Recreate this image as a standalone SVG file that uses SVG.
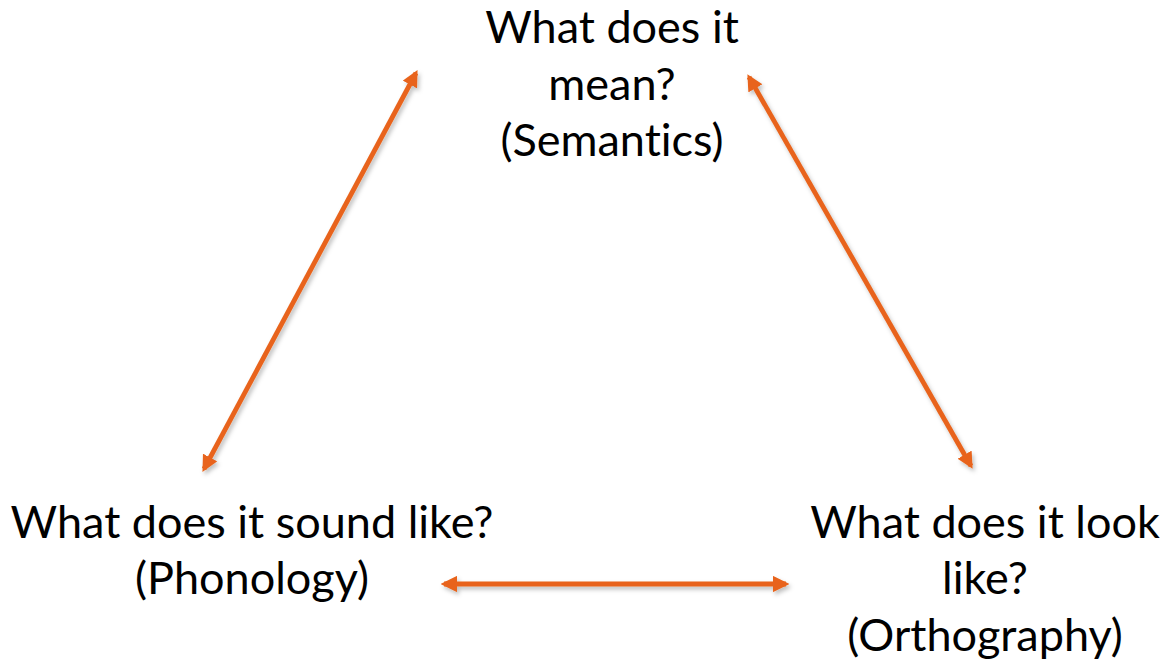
<svg xmlns="http://www.w3.org/2000/svg" width="1163" height="667" viewBox="0 0 1163 667">
<defs>
<style>
.t{font-family:Lato,"Open Sans","Liberation Sans",sans-serif;font-size:45px;fill:#000;text-anchor:middle;font-variant-ligatures:none;font-feature-settings:"liga" 0}
.c{stroke:#E8641B;stroke-width:4.8;fill:none;marker-start:url(#ah);marker-end:url(#ah)}
</style>
<marker id="ah" viewBox="0 0 10 10" refX="8" refY="5" markerWidth="3.4" markerHeight="3.4" orient="auto-start-reverse" markerUnits="strokeWidth">
<path d="M0,0 L10,5 L0,10 Z" fill="#E8641B"/>
</marker>
<filter id="sh" x="-10%" y="-10%" width="130%" height="130%">
<feDropShadow dx="2" dy="3" stdDeviation="2" flood-color="#000" flood-opacity="0.25"/>
</filter>
</defs>
<rect width="1163" height="667" fill="#fff"/>
<g id="connectors" filter="url(#sh)">
<line class="c" x1="204" y1="469" x2="416" y2="73"/>
<line class="c" x1="749" y1="77" x2="971" y2="466"/>
<line class="c" x1="444" y1="584" x2="786" y2="584"/>
</g>
<g id="semantics">
<text class="t" x="612" y="43">What does it</text>
<text class="t" x="612" y="100">mean?</text>
<text class="t" x="612" y="156">(Semantics)</text>
</g>
<g id="phonology">
<text class="t" x="252" y="538">What does it sound like?</text>
<text class="t" x="252" y="594">(Phonology)</text>
</g>
<g id="orthography">
<text class="t" x="985" y="538">What does it look</text>
<text class="t" x="985" y="594">like?</text>
<text class="t" x="985" y="651">(Orthography)</text>
</g>
</svg>
